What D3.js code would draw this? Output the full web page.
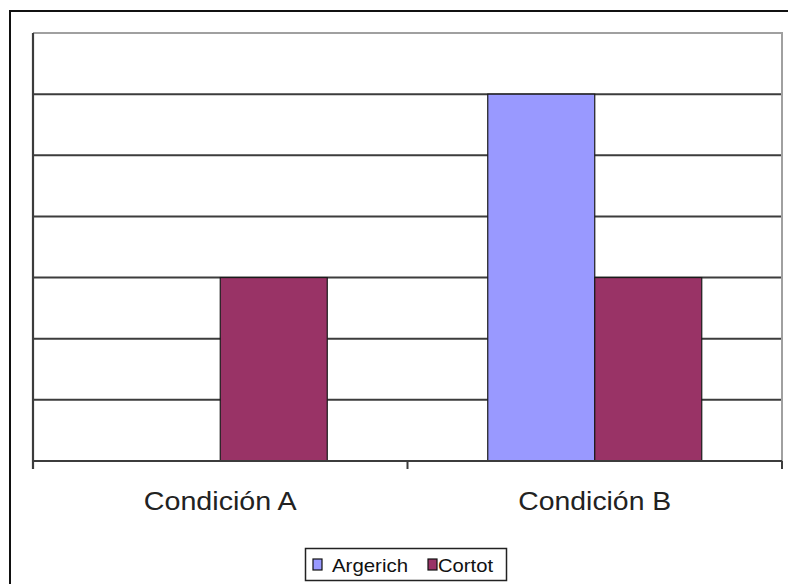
<!DOCTYPE html>
<html>
<head>
<meta charset="utf-8">
<script src="https://cdn.jsdelivr.net/npm/d3@7"></script>
<style>
  html, body { margin: 0; padding: 0; background: #ffffff; }
  svg { display: block; }
</style>
</head>
<body>
<svg id="chart" width="788" height="584"></svg>
<script>
// Chart data
const categories = ["Condición A", "Condición B"];
const seriesNames = ["Argerich", "Cortot"];
const argerich = [0, 6];
const cortot = [3, 3];
const seriesColors = ["#9999FF", "#993366"];
const yMax = 7;
const yTicks = [0, 1, 2, 3, 4, 5, 6, 7];

const svg = d3.select("#chart");
const W = 788, H = 584;

// Outer chart frame (extends past the visible window on right and bottom)
svg.append("rect")
  .attr("x", 10).attr("y", 11)
  .attr("width", 800).attr("height", 600)
  .attr("fill", "#ffffff")
  .attr("stroke", "#111").attr("stroke-width", 2);

// Plot area
const plot = { left: 33, right: 782, top: 33, bottom: 461 };

const x0 = d3.scaleBand()
  .domain(categories)
  .range([plot.left, plot.right])
  .paddingInner(0).paddingOuter(0);

// Excel-style gap width of 150%: each band holds two bars plus 1.5 bar widths of gap
const barW = x0.bandwidth() / 3.5;
const x1 = d3.scaleBand()
  .domain(seriesNames)
  .range([0, barW * 2]);

const y = d3.scaleLinear().domain([0, yMax]).range([plot.bottom, plot.top]);

// Horizontal gridlines
svg.append("g")
  .selectAll("line")
  .data(yTicks.filter(t => t > 0 && t < yMax))
  .join("line")
  .attr("x1", plot.left).attr("x2", plot.right)
  .attr("y1", d => y(d)).attr("y2", d => y(d))
  .attr("stroke", "#3c3c3c").attr("stroke-width", 2);

// Plot frame top and right (light gray)
svg.append("path")
  .attr("d", `M${plot.left},${y(yMax)}H${plot.right}V${plot.bottom}`)
  .attr("fill", "none")
  .attr("stroke", "#a0a0a0").attr("stroke-width", 2);

// Bars
const rows = categories.map((c, i) => ({
  cat: c,
  vals: [
    { name: seriesNames[0], v: argerich[i], color: seriesColors[0] },
    { name: seriesNames[1], v: cortot[i], color: seriesColors[1] }
  ]
}));

const groups = svg.append("g")
  .selectAll("g")
  .data(rows)
  .join("g")
  .attr("transform", d => `translate(${x0(d.cat) + (x0.bandwidth() - barW * 2) / 2},0)`);

groups.selectAll("rect")
  .data(d => d.vals.filter(s => s.v > 0))
  .join("rect")
  .attr("x", d => x1(d.name))
  .attr("width", x1.bandwidth())
  .attr("y", d => y(d.v))
  .attr("height", d => y(0) - y(d.v))
  .attr("fill", d => d.color)
  .attr("stroke", "#1a1a1a").attr("stroke-width", 1.2);

// Value axis line (left), no labels
svg.append("line")
  .attr("x1", plot.left).attr("x2", plot.left)
  .attr("y1", plot.top).attr("y2", plot.bottom + 8)
  .attr("stroke", "#3c3c3c").attr("stroke-width", 2.2);

// Category axis
const xAxis = svg.append("g").attr("transform", `translate(0,${plot.bottom})`);
xAxis.append("line")
  .attr("x1", plot.left).attr("x2", plot.right)
  .attr("stroke", "#3c3c3c").attr("stroke-width", 2);
const boundaries = categories.map(c => x0(c)).concat([x0(categories[categories.length - 1]) + x0.bandwidth()]);
xAxis.selectAll("line.tick")
  .data(boundaries)
  .join("line")
  .attr("class", "tick")
  .attr("x1", d => d).attr("x2", d => d)
  .attr("y1", 0).attr("y2", 8)
  .attr("stroke", "#3c3c3c").attr("stroke-width", 2);

xAxis.selectAll("text")
  .data(categories)
  .join("text")
  .attr("x", d => x0(d) + x0.bandwidth() / 2)
  .attr("y", 49)
  .attr("text-anchor", "middle")
  .attr("font-family", "Liberation Sans, Arial, sans-serif")
  .attr("font-size", 25)
  .attr("fill", "#222")
  .attr("textLength", 153)
  .attr("lengthAdjust", "spacingAndGlyphs")
  .text(d => d);

// Legend
const legend = svg.append("g");
legend.append("rect")
  .attr("x", 305.5).attr("y", 548.5)
  .attr("width", 201).attr("height", 32)
  .attr("fill", "#ffffff")
  .attr("stroke", "#222").attr("stroke-width", 1.5);

const legendItems = [
  { name: seriesNames[0], color: seriesColors[0], sx: 313, tx: 332, tw: 76 },
  { name: seriesNames[1], color: seriesColors[1], sx: 428, tx: 438, tw: 55 }
];
const li = legend.selectAll("g.item").data(legendItems).join("g").attr("class", "item");
li.append("rect")
  .attr("x", d => d.sx).attr("y", 559)
  .attr("width", 9).attr("height", 11)
  .attr("fill", d => d.color)
  .attr("stroke", "#111").attr("stroke-width", 1.2);
li.append("text")
  .attr("x", d => d.tx).attr("y", 572)
  .attr("font-family", "Liberation Sans, Arial, sans-serif")
  .attr("font-size", 19)
  .attr("fill", "#111")
  .attr("textLength", d => d.tw)
  .attr("lengthAdjust", "spacingAndGlyphs")
  .text(d => d.name);
</script>
</body>
</html>
